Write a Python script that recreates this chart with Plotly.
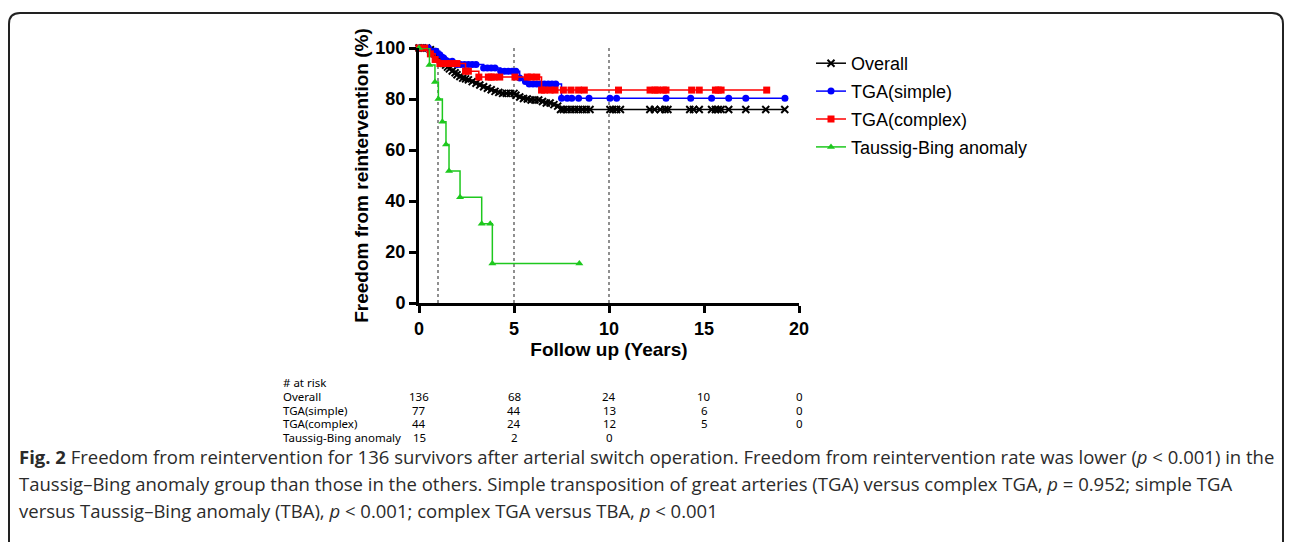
import plotly.graph_objects as go

# page has an 8px body margin: figure is sized so it fills the 1292x542 window
OX, OY = 8, 8
W, H = 1292 - OX, 542 - OY

# ---------------- data ----------------
overall_t = [0, 0.2, 0.4, 0.6, 0.7, 0.8, 0.9, 1.0, 1.1, 1.2, 1.3, 1.4, 1.5, 1.6, 1.75, 1.9, 2.0, 2.15,
             2.3, 2.45, 2.6, 2.8, 3.0, 3.2, 3.4, 3.6, 3.8, 4.0, 4.2, 4.4, 4.6, 4.8, 5.0, 5.1, 5.3, 5.5,
             5.7, 5.9, 6.1, 6.3, 6.5, 6.7, 6.9, 7.1, 7.3, 7.45, 7.6, 7.8, 8.0, 8.2, 8.4, 8.6, 8.8, 9.0,
             10.05, 10.2, 10.4, 10.6, 12.15, 12.4, 12.7, 12.95, 13.1, 14.25, 14.45, 14.75, 15.4, 15.6,
             15.75, 15.9, 16.3, 17.2, 18.25, 19.25]
overall_s = [100, 100, 100, 99.3, 98.5, 97.8, 97.0, 96.3, 95.5, 94.8, 94.0, 93.3, 92.5, 91.8, 91.0, 90.3,
             89.5, 88.8, 88.2, 87.9, 87.5, 86.8, 86.2, 85.5, 84.8, 84.2, 83.6, 83.0, 82.6, 82.2, 82.2,
             82.2, 82.2, 81.5, 80.8, 80.2, 80.0, 79.6, 79.6, 79.6, 79.0, 78.4, 78.4, 77.8, 77.2, 75.9,
             75.9, 75.9, 75.9, 75.9, 75.9, 75.9, 75.9, 75.9,
             75.9, 75.9, 75.9, 75.9, 75.9, 75.9, 75.9, 75.9, 75.9, 75.9, 75.9, 75.9, 75.9, 75.9,
             75.9, 75.9, 75.9, 75.9, 75.9, 75.9]

simple_t = [0, 0.3, 0.5, 0.75, 0.9, 1.1, 1.3, 1.5, 1.75, 2.0, 2.2, 2.4, 2.6, 2.8, 3.0, 3.4, 3.6, 3.8,
            4.0, 4.3, 4.5, 4.7, 4.9, 5.1, 5.3, 5.6, 5.8, 6.0, 6.2, 6.4, 6.6, 6.8, 7.0, 7.2, 7.5, 7.8,
            8.04, 8.4, 8.95, 10.05, 10.4, 13.0, 14.3, 15.4, 16.3, 17.2, 19.26]
simple_s = [100, 100, 100, 98.7, 98.7, 97.4, 96.1, 94.8, 94.8, 93.5, 93.5, 93.5, 93.5, 93.5, 93.5,
            92.2, 92.2, 92.2, 92.2, 90.9, 90.9, 90.9, 90.9, 90.9, 88.2, 86.9, 85.9, 85.9, 85.9, 85.9,
            85.9, 85.9, 85.9, 85.9, 80.3, 80.3, 80.3, 80.3, 80.3, 80.3, 80.3, 80.3, 80.3, 80.3, 80.3,
            80.3, 80.3]

complex_t = [0, 0.3, 0.6, 0.85, 1.1, 1.4, 1.7, 2.0, 2.45, 2.6, 3.15, 3.65, 3.8, 3.95, 4.25, 5.05, 5.7,
             5.9, 6.2, 6.45, 6.6, 6.9, 7.16, 7.6, 8.0, 8.4, 8.7, 10.5, 12.16, 12.42, 12.55, 12.86, 13.0,
             14.35, 14.75, 15.6, 15.75, 15.9, 18.3]
complex_s = [100, 100, 97.7, 95.5, 93.9, 93.9, 93.9, 93.9, 90.9, 90.9, 88.6, 88.6, 88.6, 88.6, 88.6,
             88.6, 88.6, 88.6, 88.6, 83.5, 83.5, 83.5, 83.5, 83.5, 83.5, 83.5, 83.5, 83.5, 83.5, 83.5,
             83.5, 83.5, 83.5, 83.5, 83.5, 83.5, 83.5, 83.5, 83.5]

tba_t = [0, 0.55, 0.84, 1.02, 1.23, 1.42, 1.58, 2.16, 3.3, 3.75, 3.86, 8.44]
tba_s = [100, 93.3, 86.7, 80.0, 71.1, 62.2, 51.8, 41.5, 31.1, 31.1, 15.5, 15.5]

ref_lines = [1, 5, 10]

risk_times = [0, 5, 10, 15, 20]
risk_labels = ["Overall", "TGA(simple)", "TGA(complex)", "Taussig-Bing anomaly"]
risk_overall = [136, 68, 24, 10, 0]
risk_simple = [77, 44, 13, 6, 0]
risk_complex = [44, 24, 12, 5, 0]
risk_tba = [15, 2, 0]

series = [
    ("Overall", overall_t, overall_s, "#000000", "x-thin", 7),
    ("TGA(simple)", simple_t, simple_s, "#0000ff", "circle", 7),
    ("TGA(complex)", complex_t, complex_s, "#ff0000", "square", 7),
    ("Taussig-Bing anomaly", tba_t, tba_s, "#1ec81e", "triangle-up", 7),
]


def px_x(px):
    return (px - OX) / W


def px_y(py):
    return 1 - (py - OY) / H


# ---------------- figure ----------------
fig = go.Figure()
for name, t, s, col, sym, sz in series:
    fig.add_trace(go.Scatter(
        x=t, y=s, name=name, mode="lines+markers", line_shape="hv",
        line=dict(color=col, width=1.5),
        marker=dict(symbol=sym, size=sz, color=col,
                    line=dict(color=col, width=2 if sym == "x-thin" else 0)),
        cliponaxis=False, legendgroup=name,
    ))

for xv in ref_lines:
    fig.add_shape(type="line", xref="x", yref="y", x0=xv, x1=xv, y0=0, y1=100,
                  line=dict(color="#555555", width=1.3, dash="dot"), layer="below")

title_font = dict(family="Arial, Liberation Sans", size=19, color="#000000", weight="bold")
tick_font = dict(family="Arial, Liberation Sans", size=18, color="black", weight="bold")
fig.update_layout(
    width=W, height=H,
    margin=dict(l=0, r=0, t=0, b=0),
    paper_bgcolor="white", plot_bgcolor="white",
    showlegend=True,
    legend=dict(x=px_x(811), y=px_y(45), xanchor="left", yanchor="top",
                font=dict(family="Arial, Liberation Sans", size=18, color="#000000"),
                tracegroupgap=1.5, bgcolor="rgba(0,0,0,0)", itemwidth=30),
    xaxis=dict(domain=[px_x(419), px_x(799)], range=[0, 20], tickvals=[0, 5, 10, 15, 20],
               showgrid=False, zeroline=False, showline=True, linecolor="black", linewidth=3,
               ticks="outside", ticklen=7, tickwidth=2.5, tickcolor="black", tickfont=tick_font,
               title=dict(text="Follow up (Years)", font=title_font, standoff=6),
               automargin=False),
    yaxis=dict(domain=[px_y(303), px_y(48)], range=[0, 100], tickvals=[0, 20, 40, 60, 80, 100],
               showgrid=False, zeroline=False, showline=True, linecolor="black", linewidth=3,
               ticks="outside", ticklen=7, tickwidth=2.5, tickcolor="black", tickfont=tick_font,
               title=dict(text="Freedom from reintervention (%)", font=title_font, standoff=2),
               automargin=False),
)

# risk table
tab_font = dict(family="Noto Sans, Open Sans", size=11.5, color="#000000")
lab_x = 281
row_y = [396.5, 410, 423.5, 437.5]
fig.add_annotation(text="# at risk", xref="paper", yref="paper", x=px_x(lab_x), y=px_y(382.5),
                   xanchor="left", yanchor="middle", showarrow=False, font=tab_font)
for lab, yy in zip(risk_labels, row_y):
    fig.add_annotation(text=lab, xref="paper", yref="paper", x=px_x(lab_x), y=px_y(yy),
                       xanchor="left", yanchor="middle", showarrow=False, font=tab_font)
for vals, yy in zip([risk_overall, risk_simple, risk_complex, risk_tba], row_y):
    for tv, v in zip(risk_times, vals):
        fig.add_annotation(text=str(v), xref="x", yref="paper", x=tv, y=px_y(yy),
                           xanchor="center", yanchor="middle", showarrow=False, font=tab_font)

# caption
cap_font = dict(family="Open Sans, Noto Sans", size=18.5, color="#2b2b2b")
cap_lines = [
    "<b>Fig. 2</b> Freedom from reintervention for 136 survivors after arterial switch operation. "
    "Freedom from reintervention rate was lower (<i>p</i> < 0.001) in the",
    "Taussig–Bing anomaly group than those in the others. Simple transposition of great arteries (TGA) "
    "versus complex TGA, <i>p</i> = 0.952; simple TGA",
    "versus Taussig–Bing anomaly (TBA), <i>p</i> < 0.001; complex TGA versus TBA, <i>p</i> < 0.001",
]
for txt, yy in zip(cap_lines, [456, 483, 510]):
    fig.add_annotation(text=txt, xref="paper", yref="paper", x=px_x(17), y=px_y(yy),
                       xanchor="left", yanchor="middle", showarrow=False, font=cap_font)


# rounded frame (open at bottom)
def P(px, py):
    return f"{px_x(px):.5f},{px_y(py):.5f}"


frame = (f"M {P(9, 545)} L {P(9, 24)} Q {P(9, 13)} {P(20, 13)} L {P(1272, 13)} "
         f"Q {P(1283, 13)} {P(1283, 24)} L {P(1283, 545)}")
fig.add_shape(type="path", xref="paper", yref="paper", path=frame,
              line=dict(color="#222222", width=2))

fig.write_html("out.html")
